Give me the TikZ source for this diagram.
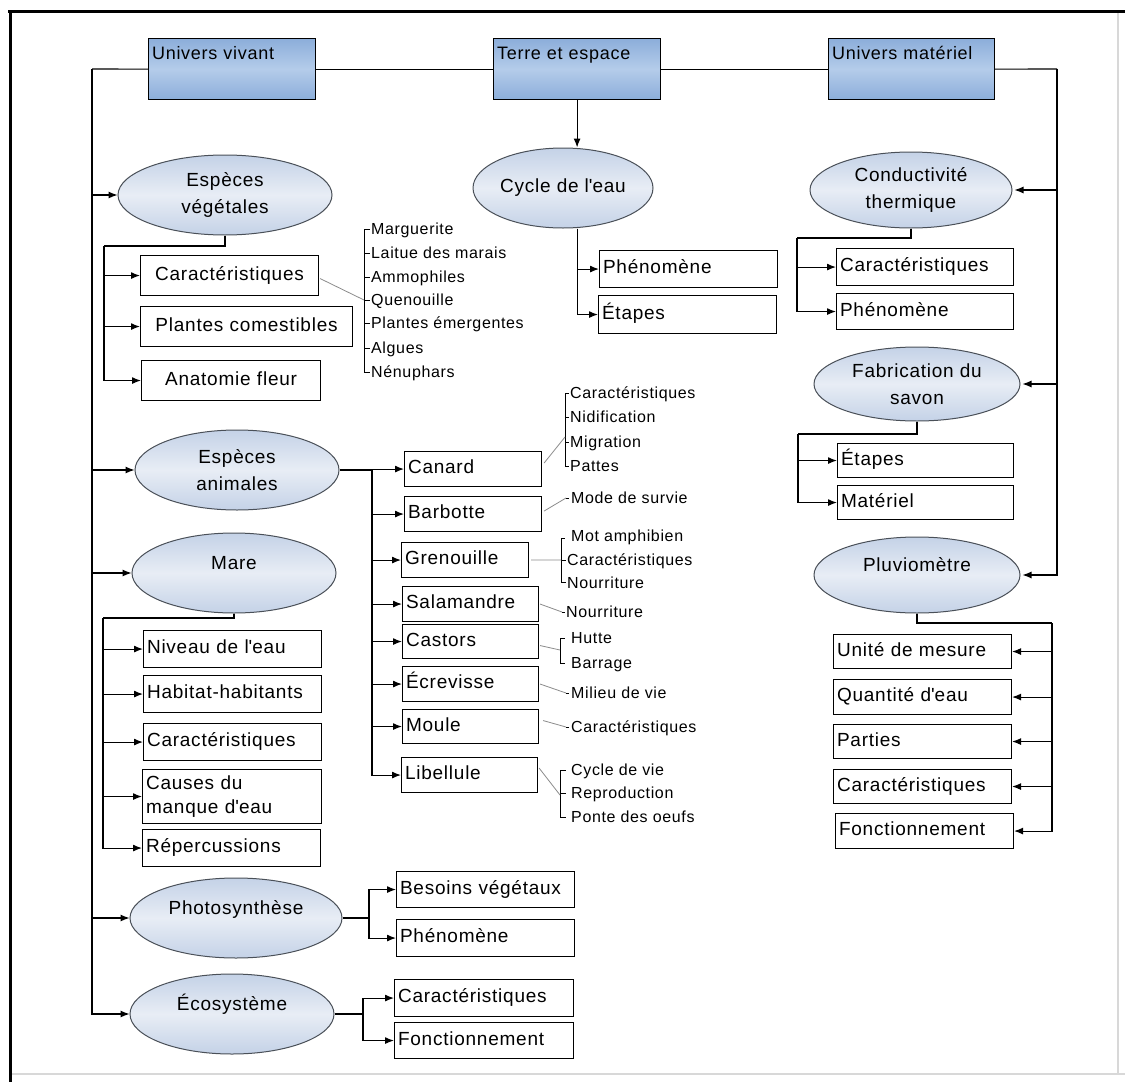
\documentclass[tikz,border=0pt]{standalone}
\usepackage{fontspec}
\setmainfont[LetterSpace=4]{Liberation Sans}
\usetikzlibrary{arrows.meta,calc,shapes.geometric}
\definecolor{topA}{HTML}{8CAEDA}
\definecolor{topB}{HTML}{B4CCEA}
\definecolor{ellA}{HTML}{C4D2E7}
\definecolor{ellB}{HTML}{E8EDF5}
\definecolor{ellLine}{HTML}{4A5058}
\definecolor{subline}{HTML}{8C8C8C}
\definecolor{framegray}{HTML}{D8D8D8}
\tikzset{
  bigfont/.style={font=\fontsize{19}{24}\selectfont},
  ellfont/.style={font=\fontsize{19}{27}\selectfont},
  smallfont/.style={font=\fontsize{16}{19}\selectfont},
  lbox/.code 2 args={\pgfmathsetmacro\bxw{#1-7}\edef\bxtmp{\noexpand\tikzset{minimum width=#1pt,minimum height=#2pt,text width=\bxw pt}}\bxtmp},
  bx/.style={draw, line width=1.1pt, fill=white, anchor=north west, inner xsep=3.5pt, inner ysep=0pt, align=left, text height=14pt, text depth=5pt, bigfont},
  bxc/.style={bx, align=center},
  topbox/.style={draw, line width=1.2pt, anchor=north west, top color=topA, bottom color=topA, middle color=topB, inner xsep=3.5pt, inner ysep=0pt, align=left, text height=13pt, text depth=33pt, font=\fontsize{18}{22}\selectfont},
  ell/.style={ellipse, draw=ellLine, line width=1pt, top color=ellA, bottom color=ellA, middle color=ellB, inner sep=0pt, ellfont, align=center},
  ellone/.style={ell, text height=13pt, text depth=21pt},
  item/.style={anchor=west, inner sep=0pt, smallfont, text height=11.5pt, text depth=0pt},
  ln/.style={line width=1.1pt, draw=black},
  thk/.style={line width=1.9pt, draw=black},
  arr/.style={ln, -{Latex[length=9pt,width=7pt]}},
  sub/.style={draw=subline, line width=0.8pt},
  brk/.style={draw=black, line width=0.9pt}
}
\begin{document}
\begin{tikzpicture}[x=1pt,y=-1pt]
\useasboundingbox (0,0) rectangle (1125,1082);
\fill[white] (0,0) rectangle (1125,1082);
% frame
\draw[framegray, line width=2pt] (10,1074) -- (1125,1074);
\draw[framegray, line width=1.5pt] (1118,12) -- (1118,1074);
\draw[line width=3pt] (8,11) -- (1125,11);
\draw[line width=3pt] (10,11) -- (10,1082);

% top boxes
\node[topbox, lbox={167}{61}] (uv) at (148,38) {Univers vivant};
\node[topbox, lbox={167}{61}] (te) at (493,38) {Terre et espace};
\node[topbox, lbox={166}{61}] (um) at (828,38) {Univers matériel};

% ellipses
\node[ell, minimum width=214pt, minimum height=80pt] (ev) at (225,195) {Espèces\\végétales};
\node[ellone, text height=13pt, text depth=5pt, minimum width=180pt, minimum height=80pt] (cyc) at (563,188) {Cycle de l\textquotesingle eau};
\node[ell, minimum width=202pt, minimum height=76pt] (cond) at (911,190) {Conductivité\\thermique};
\node[ell, minimum width=206pt, minimum height=74pt] (fab) at (917,384) {Fabrication du\\savon};
\node[ellone, minimum width=206pt, minimum height=76pt] (pluv) at (917,575) {Pluviomètre};
\node[ell, minimum width=204pt, minimum height=80pt] (ea) at (237,470) {Espèces\\animales};
\node[ellone, minimum width=204pt, minimum height=80pt] (mare) at (234,573) {Mare};
\node[ellone, minimum width=212pt, minimum height=80pt] (photo) at (236,918) {Photosynthèse};
\node[ellone, minimum width=204pt, minimum height=80pt] (eco) at (232,1014) {Écosystème};

% boxes: vegetal
\node[bxc, lbox={178}{40}] (vcar) at (140,255) {Caractéristiques};
\node[bxc, lbox={212}{40}] (vpla) at (140,306) {Plantes comestibles};
\node[bxc, lbox={179}{40}] (vana) at (141,360) {Anatomie fleur};
% cycle
\node[bx, lbox={178}{37}] (phen1) at (599,250) {Phénomène};
\node[bx, lbox={178}{38}] (etp1) at (598,295) {Étapes};
% conductivite
\node[bx, lbox={177}{37}] (car2) at (836,248) {Caractéristiques};
\node[bx, lbox={177}{36}] (phen2) at (836,293) {Phénomène};
% fabrication
\node[bx, lbox={176}{34}] (etp2) at (837,443) {Étapes};
\node[bx, lbox={176}{34}] (mat) at (837,485) {Matériel};
% pluviometre
\node[bx, lbox={178}{34}] (uni) at (833,634) {Unité de mesure};
\node[bx, lbox={178}{35}] (qua) at (833,679) {Quantité d\textquotesingle eau};
\node[bx, lbox={178}{34}] (par) at (833,724) {Parties};
\node[bx, lbox={178}{34}] (car3) at (833,769) {Caractéristiques};
\node[bx, lbox={178}{35}] (fon) at (835,813) {Fonctionnement};
% animals
\node[bx, lbox={137}{35}] (canard) at (404,451) {Canard};
\node[bx, lbox={137}{35}] (barb) at (404,496) {Barbotte};
\node[bx, lbox={127}{35}] (gren) at (401,542) {Grenouille};
\node[bx, lbox={136}{35}] (sala) at (402,586) {Salamandre};
\node[bx, lbox={136}{34}] (cast) at (402,624) {Castors};
\node[bx, lbox={136}{35}] (ecr) at (402,666) {Écrevisse};
\node[bx, lbox={136}{34}] (moule) at (402,709) {Moule};
\node[bx, lbox={136}{35}] (lib) at (401,757) {Libellule};
% mare
\node[bx, lbox={178}{37}] (niv) at (143,630) {Niveau de l\textquotesingle eau};
\node[bx, lbox={178}{37}] (hab) at (143,675) {Habitat-habitants};
\node[bx, lbox={178}{37}] (car4) at (143,723) {Caractéristiques};
\node[bx, lbox={179}{54}, text height={}, text depth={}] (cau) at (142,769) {Causes du\\manque d\textquotesingle eau};
\node[bx, lbox={178}{37}] (rep) at (142,829) {Répercussions};
% photosynthese
\node[bx, lbox={178}{36}] (bes) at (396,871) {Besoins végétaux};
\node[bx, lbox={178}{37}] (phen3) at (396,919) {Phénomène};
% ecosysteme
\node[bx, lbox={179}{37}] (car5) at (394,979) {Caractéristiques};
\node[bx, lbox={179}{36}] (fon2) at (394,1022) {Fonctionnement};

% main trunks
\coordinate (tl) at (92,69);
\coordinate (tr) at (1057,69);
\draw[ln] (uv.east) -- (te.west);
\draw[ln] (te.east) -- (um.west);
\draw[ln] (uv.west) -- (tl);
\foreach \n in {ev,ea,mare,photo,eco} \draw[arr] (tl) |- (\n.west);
\draw[ln] (um.east) -- (tr);
\foreach \n in {cond,fab,pluv} \draw[arr, shorten >=2pt] (tr) |- (\n.east);
\draw[arr] (te.south) -- (te.south |- cyc.north);

% vegetal branch
\coordinate (evb) at (104,246);
\draw[thk] (ev.south) |- (evb);
\foreach \n in {vcar,vpla,vana} \draw[arr] (evb) |- (\n.west);
% cycle branch
\coordinate (cycb) at (te.south |- cyc.south);
\foreach \n in {phen1,etp1} \draw[arr] (cycb) |- (\n.west);
% conductivite branch
\coordinate (condb) at (797,238);
\draw[thk] (cond.south) |- (condb);
\foreach \n in {car2,phen2} \draw[arr] (condb) |- (\n.west);
% fabrication branch
\coordinate (fabb) at (798,434);
\draw[thk] (fab.south) |- (fabb);
\foreach \n in {etp2,mat} \draw[arr] (fabb) |- (\n.west);
% pluviometre branch
\coordinate (plb) at (1052,623);
\draw[thk] (pluv.south) |- (plb);
\foreach \n in {uni,qua,par,car3,fon} \draw[arr] (plb) |- (\n.east);
% animals branch
\coordinate (eab) at (372,470);
\draw[ln] (ea.east) -- (eab);
\foreach \n in {canard,barb,gren,sala,cast,ecr,moule,lib} \draw[arr] (eab) |- (\n.west);
% mare branch
\coordinate (mab) at (103,618);
\draw[thk] (mare.south) |- (mab);
\foreach \n in {niv,hab,car4,cau,rep} \draw[arr] (mab) |- (\n.west);
% photosynthese branch
\coordinate (phb) at (369,918);
\draw[ln] (photo.east) -- (phb);
\foreach \n in {bes,phen3} \draw[arr] (phb) |- (\n.west);
% ecosysteme branch
\coordinate (ecb) at (363,1014);
\draw[ln] (eco.east) -- (ecb);
\foreach \n in {car5,fon2} \draw[arr] (ecb) |- (\n.west);

% plant list
\foreach \n/\y/\t in {p1/229/Marguerite,p2/253/Laitue des marais,p3/277/Ammophiles,p4/300/Quenouille,p5/323/Plantes émergentes,p6/348/Algues,p7/372/Nénuphars}
  \node[item] (\n) at (371,\y) {\t};
\draw[brk] ($(p1.west)+(-7,0)$) -- ($(p7.west)+(-7,0)$);
\foreach \n in {p1,p2,p3,p4,p5,p6,p7} \draw[brk] ($(\n.west)+(-7,0)$) -- ($(\n.west)+(-1,0)$);
\draw[sub] ($(vcar.east)+(1,3)$) -- ($(p4.west)+(-7,0)$);

% canard list
\foreach \n/\y/\t in {c1/393/Caractéristiques,c2/417/Nidification,c3/442/Migration,c4/466/Pattes}
  \node[item] (\n) at (570,\y) {\t};
\draw[brk] ($(c1.west)+(-5,0)$) -- ($(c4.west)+(-5,0)$);
\foreach \n in {c1,c2,c3,c4} \draw[brk] ($(\n.west)+(-5,0)$) -- ($(\n.west)+(-1,0)$);
\draw[sub] ($(canard.east)+(2,-6)$) -- ($(c3.west)+(-5,-5)$);

% barbotte
\node[item] (b1) at (571,498) {Mode de survie};
\draw[brk] ($(b1.west)+(-5,0)$) -- ($(b1.west)+(-2,0)$);
\draw[sub] ($(barb.east)+(2,-3)$) -- ($(b1.west)+(-5,0)$);

% grenouille list
\node[item] (g1) at (571,536) {Mot amphibien};
\node[item] (g2) at (567,560) {Caractéristiques};
\node[item] (g3) at (567,583) {Nourriture};
\draw[brk] ($(g2.west)+(-6,-22)$) -- ($(g2.west)+(-6,22)$);
\draw[brk] ($(g2.west)+(-6,-22)$) -- ($(g2.west)+(-2,-22)$);
\draw[brk] ($(g2.west)+(-6,0)$) -- ($(g2.west)+(-1,0)$);
\draw[brk] ($(g3.west)+(-6,-1)$) -- ($(g3.west)+(-1,-1)$);
\draw[sub] ($(gren.east)+(2,0)$) -- ($(g2.west)+(-6,0)$);

% salamandre
\node[item] (s1) at (566,612) {Nourriture};
\draw[brk] ($(s1.west)+(-4,0)$) -- ($(s1.west)+(-1,0)$);
\draw[sub] ($(sala.east)+(1,0)$) -- ($(s1.west)+(-4,0)$);

% castors list
\node[item] (k1) at (571,638) {Hutte};
\node[item] (k2) at (571,663) {Barrage};
\draw[brk] ($(k1.west)+(-11,0)$) -- ($(k2.west)+(-11,0)$);
\foreach \n in {k1,k2} \draw[brk] ($(\n.west)+(-11,0)$) -- ($(\n.west)+(-6,0)$);
\draw[sub] ($(cast.east)+(1,4)$) -- ($(k1.west)+(-11,12)$);

% ecrevisse
\node[item] (e1) at (571,693) {Milieu de vie};
\draw[brk] ($(e1.west)+(-5,0)$) -- ($(e1.west)+(-2,0)$);
\draw[sub] ($(ecr.east)+(1,0)$) -- ($(e1.west)+(-5,0)$);

% moule
\node[item] (m1) at (571,727) {Caractéristiques};
\draw[brk] ($(m1.west)+(-5,0)$) -- ($(m1.west)+(-2,0)$);
\draw[sub] ($(moule.east)+(4,-6)$) -- ($(m1.west)+(-5,0)$);

% libellule list
\foreach \n/\y/\t in {l1/770/Cycle de vie,l2/793/Reproduction,l3/817/Ponte des oeufs}
  \node[item] (\n) at (571,\y) {\t};
\draw[brk] ($(l1.west)+(-11,0)$) -- ($(l3.west)+(-11,0)$);
\foreach \n in {l1,l2,l3} \draw[brk] ($(\n.west)+(-11,0)$) -- ($(\n.west)+(-5,0)$);
\draw[sub] ($(lib.east)+(1,-7)$) -- ($(l2.west)+(-11,2)$);
\end{tikzpicture}
\end{document}
